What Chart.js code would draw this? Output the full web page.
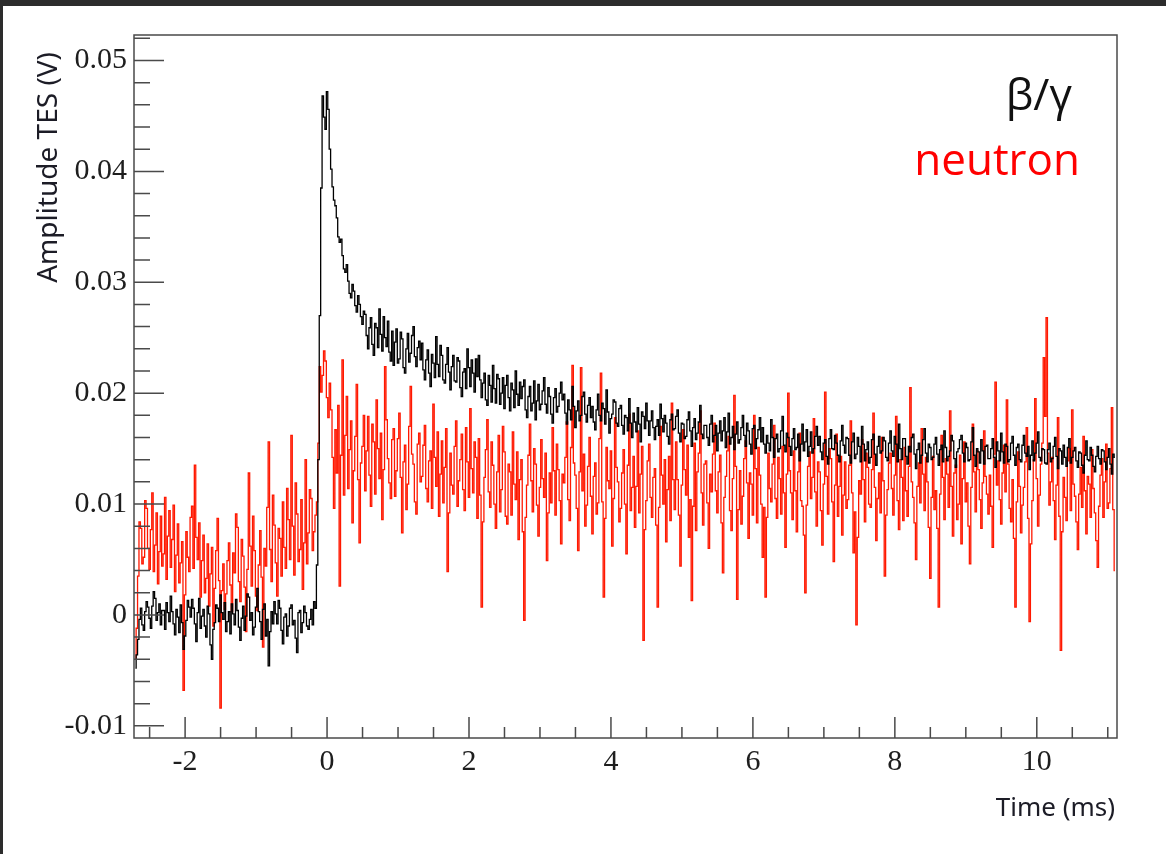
<!DOCTYPE html>
<html>
<head>
<meta charset="utf-8">
<title>TES pulses</title>
<script src="https://cdn.jsdelivr.net/npm/chart.js@4.4.1/dist/chart.umd.min.js"></script>
<style>
  html, body { margin: 0; padding: 0; background: #fff; }
  .wrap { position: relative; width: 1166px; height: 854px; }
  #chart { position: absolute; left: 0; top: 0; }
  .band-top { position: absolute; left: 0; top: 0; width: 1166px; height: 6px; background: #2c2c2c; }
  .band-left { position: absolute; left: 0; top: 0; width: 3px; height: 854px; background: #2c2c2c; }
</style>
</head>
<body>
<div class="wrap">
  <canvas id="chart" width="1166" height="854"></canvas>
  <div class="band-top"></div>
  <div class="band-left"></div>
</div>
<script>
// sampling of the traces (ms): centre of first bin and bin width
const sampleStart = -2.70;
const sampleStep = 0.02;

// beta/gamma pulse, amplitude in mV
const betaGammaMv = [
  -4.8, -3.6, -2.2, -0.4, 0.6, -0.9, -1.4, 0.3, 1.2, 0.7, -0.3, -1.2, 0.8, 2.1, 1.5, -0.5, 0.2, 1.0, -0.9, 0.4,
  0.4, -1.3, 1.1, 0.2, -0.6, 1.7, 0.3, -0.8, -1.8, 0.5, -0.2, -1.6, 0.9, -0.7, -3.1, -1.9, -0.5, 1.3, 0.7, -0.2,
  1.4, 0.6, -0.8, -2.4, 0.2, 1.5, -1.2, -0.1, 0.5, -1.0, -2.0, 0.8, 0.1, -2.7, -4.0, -1.3, -0.7, 0.9, 0.6, -0.6,
  1.8, 0.2, -0.4, 1.1, -1.5, -0.6, 0.3, -1.7, 1.0, 0.1, -0.9, 1.4, 0.4, -1.1, -2.3, -0.3, 0.8, -1.4, -0.1, 1.9,
  1.6, -0.5, 0.2, -1.8, -1.1, 0.7, 2.4, 0.3, -0.6, -2.2, 0.5, 1.0, -1.9, -0.4, -4.6, -1.5, 0.3, -0.8, 1.2, 0.1,
  -0.8, 1.3, 0.6, -1.4, -2.6, -0.2, 0.1, -1.9, -1.0, 0.6, 0.9, -0.9, -0.5, -2.1, -3.4, 0.2, 0.4, -1.6, -0.7, 0.8,
  0.2, -1.0, -1.3, -0.4, 0.5, -0.9,
  1.2, 0.6, 4.5, 14.0, 27.0, 38.5, 46.8, 44.9, 43.8, 47.2, 45.6, 42.0, 40.2, 38.6, 37.4, 36.9, 35.8, 34.1,
  33.6, 33.9, 32.4, 31.2, 30.9, 31.6, 30.1, 29.0, 28.6, 29.8, 29.2, 27.9, 27.3, 28.8, 28.0, 26.9, 26.2, 27.4,
  27.1, 25.2, 24.0, 25.9, 26.8, 24.4, 23.4, 26.3, 25.9, 24.1, 27.6, 25.3, 23.8, 26.9, 25.0, 24.2, 26.5, 23.7, 22.9, 25.6,
  22.5, 24.6, 25.8, 22.7, 23.1, 25.5, 24.9, 22.3, 21.8, 24.0, 25.4, 22.8, 23.6, 25.2, 26.0, 23.3, 22.4, 24.1, 24.7, 23.0,
  24.5, 22.1, 21.2, 23.0, 23.9, 21.8, 20.6, 23.5, 22.7, 21.4, 25.1, 22.6, 21.5, 24.3, 23.4, 21.2, 20.9, 22.6, 24.1, 21.9,
  20.3, 22.4, 23.4, 21.1, 21.0, 23.2, 22.9, 20.5, 19.7, 21.9, 22.2, 20.4, 24.0, 22.3, 20.6, 23.0, 21.8, 20.1, 23.1, 21.5,
  23.4, 21.2, 19.6, 20.9, 21.8, 19.4, 18.9, 21.6, 20.7, 19.2, 22.5, 20.4, 19.1, 21.7, 21.3, 19.0, 20.0, 21.4, 18.6, 20.7,
  21.6, 19.6, 18.4, 20.9, 20.3, 18.7, 22.0, 19.9, 18.9, 21.0, 19.5, 20.6, 21.2, 18.5, 17.8, 19.7, 20.6, 18.4, 19.1, 21.1,
  17.6, 19.3, 20.8, 18.5, 19.0, 20.2, 21.4, 19.0, 18.2, 20.5, 19.7, 18.1, 17.3, 19.6, 20.4, 18.3, 18.8, 20.0, 21.0, 19.4,
  19.9, 18.2, 17.2, 19.4, 18.5, 17.6, 20.6, 18.8, 16.9, 18.4, 19.3, 17.5, 18.0, 19.7, 20.1, 18.1, 17.4, 18.9, 19.6, 17.8,
  18.8, 17.4, 16.7, 18.5, 19.9, 18.0, 17.5, 19.1, 18.6, 17.2, 20.3, 18.3, 16.4, 17.7, 18.1, 19.4, 19.2, 17.3, 17.0, 18.6,
  18.9, 17.1, 16.3, 18.0, 17.8, 16.6, 19.5, 17.3, 16.0, 18.2, 17.4, 16.5, 18.7, 17.2, 15.6, 18.3, 17.9, 16.8, 19.1, 17.5,
  16.2, 17.5, 18.4, 16.9, 15.8, 17.0, 17.6, 16.2, 19.0, 17.7, 16.5, 18.0, 17.3, 16.1, 15.4, 17.6, 18.1, 16.7, 16.8, 17.9,
  18.5, 16.4, 15.6, 17.3, 17.2, 15.9, 16.1, 17.6, 18.3, 16.6, 15.2, 16.9, 17.7, 15.8, 16.4, 17.4, 18.9, 16.3, 15.9, 17.1,
  17.1, 16.0, 15.3, 17.2, 18.0, 15.6, 16.2, 17.1, 14.8, 16.4, 17.5, 15.7, 16.6, 17.8, 15.1, 16.5, 18.2, 15.4, 16.0, 17.0,
  14.9, 16.3, 17.4, 15.5, 15.8, 16.9, 18.0, 16.2, 15.2, 17.3, 16.6, 15.4, 14.5, 16.8, 17.1, 15.0, 15.9, 16.7, 17.8, 15.6,
  16.9, 15.4, 14.6, 16.2, 15.5, 14.8, 17.6, 16.0, 14.2, 15.9, 16.3, 14.7, 15.0, 16.6, 17.9, 15.3, 14.7, 16.4, 16.0, 15.2,
  14.4, 15.9, 16.8, 14.9, 15.1, 16.3, 13.9, 15.4, 17.2, 14.8, 15.6, 16.7, 14.3, 15.2, 16.5, 14.6, 15.0, 16.1, 17.0, 15.3,
  16.1, 14.7, 14.0, 15.5, 15.8, 14.3, 13.6, 15.9, 16.7, 15.0, 14.9, 16.2, 15.5, 14.4, 13.8, 15.7, 17.1, 15.3, 14.6, 16.0,
  15.9, 14.4, 13.7, 15.6, 16.4, 14.1, 14.5, 16.0, 15.2, 13.8, 17.0, 15.4, 13.9, 14.9, 15.6, 13.7, 14.2, 15.8, 16.3, 14.5,
  13.5, 15.2, 16.1, 14.6, 14.8, 16.0, 15.7, 14.2, 13.9, 15.5, 16.6, 14.8, 14.3, 16.1, 15.4, 13.8, 17.2, 15.0, 14.0, 15.9,
  15.9, 14.3, 13.6, 15.2, 14.7, 16.0, 16.3, 14.5, 13.2, 14.9, 15.5, 13.7, 14.4, 15.8, 16.8, 14.6, 13.8, 15.4, 15.1, 14.0,
  14.2, 15.4, 16.0, 14.5, 13.5, 14.9, 15.3, 13.8, 16.6, 15.1, 13.9, 14.3, 14.8, 16.2, 15.7, 14.1, 13.3, 14.7, 15.0, 15.8,
  16.2, 14.6, 13.8, 15.5, 15.1, 13.9, 14.0, 15.6, 16.9, 14.4, 13.4, 15.0, 14.7, 13.7, 15.8, 14.8, 13.6, 15.2, 15.3, 14.1,
  14.1, 15.0, 15.9, 14.2, 13.3, 15.6, 14.8, 13.9, 16.4, 14.7, 13.7, 15.4, 15.2, 13.8, 14.0, 15.5, 16.1, 14.4, 13.5, 15.1,
  15.4, 14.0, 13.8, 15.3, 16.2, 14.6, 14.3, 15.2, 13.1, 14.4, 15.7, 13.9, 14.6, 15.5, 16.5, 14.2, 13.9, 15.0, 14.9, 13.7,
  13.6, 14.9, 15.5, 13.8, 14.1, 15.2, 16.0, 14.3, 13.2, 15.0, 14.8, 13.6, 15.3, 14.2, 13.4, 15.1, 15.9, 13.7, 14.2, 14.8,
  15.1, 13.9, 13.3, 14.7, 14.6, 13.5, 12.8, 14.4, 15.7, 14.0, 13.9, 15.1, 14.4, 13.4, 12.9, 14.3, 15.2, 14.1, 13.6, 14.9,
  14.8, 13.8, 13.1, 14.2, 15.0, 13.6, 12.7, 14.5, 14.2
];

// neutron pulse, amplitude in mV
const neutronMv = [
  -4.0, -1.2, 3.5, 8.4, 7.8, 4.6, 5.2, 10.3, 9.6, 6.0, 4.1, 7.7, 11.0, 3.9, 6.3, 9.2, 2.8, 5.7, 8.9, 4.4,
  5.5, 10.6, 3.2, 7.1, 9.4, 4.3, 6.8, 9.9, 2.1, 5.4, 8.2, 2.9, 4.7, 6.6, -6.8, 1.8, 7.5, 5.2, 3.9, 8.8,
  9.8, 4.2, 13.5, 7.0, 5.0, 8.3, 1.6, 4.9, 7.2, 2.0, 3.3, 6.4, 0.8, 3.7, 6.1, -1.0, 2.4, 5.8, 8.7, 3.1,
  -8.4, 2.2, 4.6, 0.5, 1.9, 4.9, 6.5, 2.7, 0.3, 5.6, 3.8, 9.1, 7.9, 3.0, 1.2, 6.8, 5.3, 2.5, -1.5, 4.1,
  12.8, 6.2, 2.6, 8.9, 5.8, 1.7, 0.4, 4.5, 7.6, 3.4, -2.9, 6.0, 4.4, 9.7, 15.6, 5.9, 3.0, 10.8, 8.1, 4.7,
  1.7, 7.8, 6.9, 3.5, 10.2, 6.1, 4.2, 11.4, 8.6, 5.0, 16.2, 8.0, 3.6, 11.9, 9.1, 4.8, 5.9, 10.4, 2.3, 6.5,
  14.0, 4.6, 7.4, 11.3, 10.5, 5.8,
  7.5, 9.0, 10.2, 15.5, 22.4, 20.1, 21.6, 23.8, 22.9, 19.6, 17.8, 20.9, 18.5, 14.2, 9.6, 16.7, 12.8, 18.9,
  2.6, 14.4, 23.0, 10.8, 16.2, 19.7, 11.4, 14.9, 17.5, 8.3, 13.0, 16.1, 20.8, 12.2, 6.5, 13.7, 15.2, 18.0,
  11.2, 14.8, 17.9, 12.6, 9.8, 17.2, 15.6, 10.9, 19.4, 15.0, 12.3, 16.4, 8.6, 13.1, 22.4, 17.6, 14.1, 11.9, 10.5, 15.8,
  16.8, 10.7, 13.0, 15.9, 18.2, 12.4, 7.4, 13.8, 15.3, 9.5, 11.8, 17.0, 20.6, 14.5, 13.6, 10.2, 9.1, 15.4, 16.4, 12.0,
  12.5, 15.3, 17.1, 11.4, 10.2, 13.9, 14.8, 9.6, 19.0, 14.2, 11.6, 16.5, 8.9, 12.7, 15.7, 10.1, 13.3, 16.8, 3.9, 9.2,
  14.6, 11.7, 10.9, 15.2, 17.5, 9.8, 12.1, 14.0, 16.3, 11.3, 9.4, 16.9, 13.8, 10.6, 18.6, 13.2, 11.0, 15.6, 14.2, 8.7,
  15.9, 10.8, 0.7, 8.4, 12.4, 14.9, 17.6, 11.1, 9.7, 15.6, 13.5, 10.0, 7.8, 12.9, 16.2, 9.3, 11.3, 17.0, 14.7, 8.9,
  8.2, 13.6, 12.9, 9.0, 16.5, 11.8, 10.4, 14.7, 6.8, 12.2, 14.0, 7.5, -0.5, 8.8, 11.7, 14.4, 17.2, 12.1, 9.3, 15.0,
  13.6, 9.9, 7.1, 11.5, 15.8, 12.3, 10.6, 14.6, 4.9, 9.2, 12.8, 10.1, 16.9, 13.0, 9.0, 15.4, 13.1, 10.3, 6.4, 12.7,
  11.9, 14.2, 17.4, 10.4, 8.5, 15.1, 22.5, 13.7, 12.6, 9.6, 5.8, 12.9, 22.3, 11.2, 14.5, 8.0, 9.9, 13.4, 16.0, 10.7,
  7.3, 12.5, 13.7, 9.1, 10.1, 15.9, 21.8, 10.2, 1.6, 8.7, 15.1, 12.1, 11.4, 14.8, 6.2, 10.5, 17.8, 13.3, 12.0, 8.4,
  9.6, 12.8, 14.9, 10.0, 5.5, 13.5, 18.1, 9.4, 11.5, 14.3, 7.9, 11.6, 16.6, 9.2, 12.7, 15.2, -2.3, 7.7, 10.3, 13.9,
  15.4, 10.6, 8.8, 12.4, 13.2, 8.1, 0.7, 9.7, 17.0, 12.6, 10.0, 14.0, 6.6, 11.3, 14.3, 8.5, 19.1, 12.2, 9.5, 15.6,
  12.2, 9.0, 4.4, 11.7, 16.7, 13.1, 10.8, 15.3, 7.0, 10.4, 1.3, 9.8, 15.5, 7.6, 12.9, 14.6, 18.4, 11.0, 8.1, 13.6,
  13.9, 10.1, 6.0, 12.7, 11.1, 14.5, 17.3, 11.2, 9.2, 12.9, 14.4, 8.3, 3.8, 10.6, 12.5, 14.8, 16.1, 9.4, 7.6, 12.3,
  19.8, 13.4, 1.4, 9.5, 13.0, 8.2, 10.7, 14.1, 15.7, 11.9, 6.9, 12.8, 11.8, 9.0, 18.0, 13.2, 8.3, 15.1, 12.6, 10.0,
  5.2, 9.7, 1.6, 8.8, 14.6, 11.4, 10.2, 13.6, 17.1, 10.5, 8.7, 14.2, 12.3, 9.1, 15.2, 11.0, 6.1, 12.7, 20.0, 13.0,
  11.0, 8.6, 14.8, 11.2, 7.5, 12.9, 16.4, 10.3, 9.8, 7.2, 2.0, 9.9, 13.4, 14.7, 10.5, 12.4, 17.7, 11.1, 8.0, 13.8,
  12.9, 9.4, 6.3, 11.8, 20.1, 12.5, 9.1, 15.0, 14.1, 10.2, 4.8, 11.7, 16.3, 8.9, 11.6, 14.3, 7.2, 10.8, 13.8, 9.6,
  10.4, 13.5, 17.5, 11.0, 5.6, 9.3, -0.9, 7.0, 12.1, 10.9, 15.8, 12.2, 8.4, 14.6, 13.3, 10.0, 9.7, 13.1, 18.2, 11.5,
  6.7, 10.5, 12.8, 9.2, 16.0, 12.1, 3.5, 9.0, 11.3, 13.7, 14.6, 11.4, 9.0, 12.6, 17.9, 10.3, 7.7, 14.0, 12.4, 8.5,
  15.1, 11.2, 8.9, 13.4, 20.5, 12.0, 10.6, 8.3, 5.0, 11.6, 13.7, 10.1, 16.8, 12.7, 9.4, 14.2, 12.0, 7.9, 3.3, 10.6,
  14.3, 9.5, 11.2, 7.8, 0.7, 10.9, 16.2, 12.4, 8.6, 14.1, 12.7, 9.7, 18.4, 11.6, 7.1, 12.8, 13.5, 8.6, 10.0, 14.4,
  6.4, 12.3, 15.6, 10.2, 11.9, 8.0, 4.6, 11.5, 17.2, 12.9, 9.3, 14.8, 13.1, 10.4, 7.8, 11.9, 16.6, 12.5, 10.9, 9.1,
  12.6, 9.8, 6.1, 14.5, 21.0, 11.7, 13.9, 10.4, 8.2, 12.8, 15.3, 11.1, 19.4, 13.6, 9.6, 8.4, 12.2, 6.9, 0.7, 10.2,
  14.7, 11.6, 7.4, 9.9, 11.5, 13.8, 16.9, 8.7, -0.6, 6.4, 10.3, 14.0, 19.5, 12.3, 8.0, 10.8, 13.6, 15.5, 23.2, 17.9,
  26.8, 14.6, 9.9, 12.0, 14.2, 10.3, 6.8, 11.7, 17.8, 8.9, -3.2, 7.5, 12.4, 10.6, 8.5, 13.9, 15.0, 9.4, 18.5, 11.8,
  10.7, 8.4, 5.9, 10.9, 13.3, 9.7, 16.1, 11.2, 7.3, 12.5, 11.8, 8.8, 14.9, 11.4, 9.2, 6.7, 4.3, 9.8, 12.6, 14.1,
  8.8, 12.0, 15.4, 9.6, 10.1, 13.2, 18.7, 9.5, 4.0
];

// axes
const xRange = [-2.72, 11.13];
const yRange = [-0.0111, 0.0523];
const yTickLabels = ['-0.01', '0', '0.01', '0.02', '0.03', '0.04', '0.05'];
const legendLabels = ['β/γ', 'neutron'];
const axisTitles = { x: 'Time (ms)', y: 'Amplitude TES (V)' };

const black = '#000000';
const red = '#ff1800';

function toPoints(valuesMv) {
  return valuesMv.map((v, i) => ({ x: sampleStart + i * sampleStep, y: v / 1000 }));
}

// ROOT-like frame with inner ticks, axis titles and the text legend
const rootFrame = {
  id: 'rootFrame',
  afterDatasetsDraw(chart) {
    const { ctx, chartArea: a, scales: { x, y } } = chart;
    ctx.save();
    ctx.strokeStyle = '#4a4a4a';
    ctx.lineWidth = 1.5;
    ctx.strokeRect(a.left, a.top, a.right - a.left, a.bottom - a.top);

    ctx.beginPath();
    // y ticks every 0.002, major every 0.01
    for (let k = -5; k <= 26; k++) {
      const py = y.getPixelForValue(k * 0.002);
      if (py < a.top || py > a.bottom) continue;
      const len = k % 5 === 0 ? 30 : 16;
      ctx.moveTo(a.left, py);
      ctx.lineTo(a.left + len, py);
    }
    // x ticks every 0.5, major every 2
    for (let k = -5; k <= 22; k++) {
      const px = x.getPixelForValue(k * 0.5);
      if (px < a.left || px > a.right) continue;
      const len = k % 4 === 0 ? 21 : 11;
      ctx.moveTo(px, a.bottom);
      ctx.lineTo(px, a.bottom - len);
    }
    ctx.stroke();
    ctx.restore();
  },
  afterDraw(chart) {
    const { ctx } = chart;
    ctx.save();
    ctx.fillStyle = '#1c1c26';
    ctx.font = '28px "Noto Sans"';
    ctx.translate(57, 52);
    ctx.rotate(-Math.PI / 2);
    ctx.textAlign = 'right';
    ctx.textBaseline = 'alphabetic';
    ctx.fillText(axisTitles.y, 0, 0);
    ctx.restore();

    ctx.save();
    ctx.fillStyle = '#1c1c26';
    ctx.font = '26px "Noto Sans"';
    ctx.textAlign = 'right';
    ctx.textBaseline = 'alphabetic';
    ctx.fillText(axisTitles.x, 1115, 816);

    ctx.font = '44px "Open Sans"';
    ctx.fillStyle = '#111111';
    ctx.fillText(legendLabels[0], 1072, 110);
    ctx.fillStyle = '#ff0000';
    ctx.fillText(legendLabels[1], 1080, 175);
    ctx.restore();
  }
};

const tickFont = { family: '"Liberation Serif", serif', size: 30, lineHeight: 1 };

new Chart(document.getElementById('chart'), {
  type: 'line',
  data: {
    datasets: [{
      label: legendLabels[0],
      data: toPoints(betaGammaMv),
      borderColor: black,
      borderWidth: 1.3,
      stepped: 'middle',
      pointRadius: 0,
      fill: false
    }, {
      label: legendLabels[1],
      data: toPoints(neutronMv),
      borderColor: red,
      borderWidth: 1.3,
      stepped: 'middle',
      pointRadius: 0,
      fill: false
    }]
  },
  options: {
    responsive: false,
    animation: false,
    events: [],
    layout: { padding: { top: 35, right: 49, bottom: 0, left: 0 } },
    plugins: {
      legend: { display: false },
      tooltip: { enabled: false }
    },
    scales: {
      x: {
        type: 'linear',
        min: xRange[0],
        max: xRange[1],
        grid: { display: false, drawTicks: false },
        border: { display: false },
        ticks: {
          stepSize: 2,
          includeBounds: false,
          autoSkip: false,
          maxRotation: 0,
          padding: 9,
          color: '#1e1e1e',
          font: tickFont,
          callback: v => String(v)
        },
        afterFit: scale => { scale.height = 116; }
      },
      y: {
        type: 'linear',
        min: yRange[0],
        max: yRange[1],
        grid: { display: false, drawTicks: false },
        border: { display: false },
        ticks: {
          stepSize: 0.01,
          includeBounds: false,
          autoSkip: false,
          padding: 7,
          color: '#1e1e1e',
          font: tickFont,
          callback: v => yTickLabels[Math.round(v * 100) + 1]
        },
        afterFit: scale => { scale.width = 134; }
      }
    }
  },
  plugins: [rootFrame]
});
</script>
</body>
</html>
